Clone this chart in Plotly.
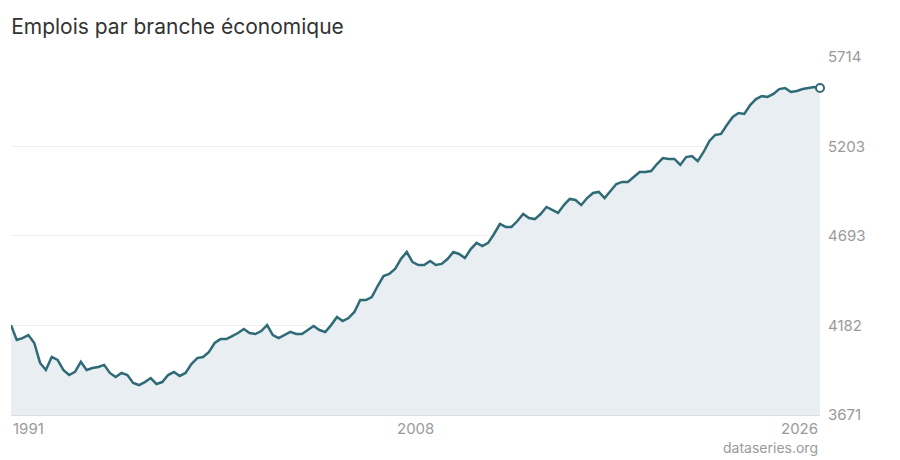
import pandas as pd
import plotly.graph_objects as go

# quarterly values, 1991Q1 .. 2025Q4
dates = pd.date_range('1991-01-01', periods=140, freq='QS')
jobs = [
    4184, 4099, 4110, 4127, 4082, 3968, 3928, 4002, 3985, 3928,
    3899, 3917, 3974, 3928, 3939, 3945, 3957, 3911, 3888, 3911,
    3899, 3854, 3842, 3859, 3882, 3848, 3859, 3899, 3917, 3894,
    3911, 3962, 3996, 4002, 4030, 4082, 4104, 4104, 4121, 4139,
    4162, 4139, 4133, 4150, 4184, 4127, 4110, 4127, 4145, 4133,
    4133, 4156, 4179, 4156, 4145, 4184, 4230, 4207, 4224, 4259,
    4327, 4327, 4344, 4407, 4464, 4476, 4504, 4561, 4601, 4544,
    4527, 4527, 4550, 4527, 4533, 4561, 4601, 4590, 4567, 4618,
    4653, 4635, 4653, 4704, 4761, 4744, 4744, 4778, 4818, 4795,
    4789, 4818, 4858, 4841, 4824, 4869, 4904, 4898, 4869, 4909,
    4938, 4944, 4909, 4949, 4989, 5001, 5001, 5029, 5058, 5058,
    5063, 5103, 5137, 5132, 5132, 5098, 5143, 5149, 5120, 5172,
    5235, 5269, 5275, 5326, 5372, 5394, 5389, 5440, 5474, 5491,
    5486, 5503, 5531, 5537, 5514, 5520, 5531, 5537, 5543, 5537,
]
y_ticks = [3671, 4182, 4693, 5203, 5714]
x_labels = ['1991', '2008', '2026']

LINE = '#2f6b76'
GREY = '#9a9a9a'

fig = go.Figure()
fig.add_trace(go.Scatter(
    x=dates, y=jobs, mode='lines',
    line=dict(color=LINE, width=2.5),
    fill='tozeroy', fillcolor='#e8eef1',
    hoverinfo='skip'))
fig.add_trace(go.Scatter(
    x=[dates[-1]], y=[jobs[-1]], mode='markers',
    marker=dict(size=8, color='white', line=dict(color=LINE, width=2)),
    cliponaxis=False, hoverinfo='skip'))

mid = dates[0] + (dates[-1] - dates[0]) / 2
for x, txt, anchor in zip([dates[0], mid, dates[-1]], x_labels, ['left', 'center', 'right']):
    fig.add_annotation(x=x, y=0, yref='paper', yshift=-2, text=txt, showarrow=False,
                       xanchor=anchor, yanchor='top',
                       font=dict(size=15, color=GREY, family='Inter'))

fig.add_annotation(x=1, y=-0.092, xref='paper', yref='paper', yanchor='middle', xanchor='right',
                   text='dataseries.org', showarrow=False,
                   font=dict(size=14, color=GREY, family='Inter'))

# page is offset by the browser's 8px body margin, so margins are shifted
fig.update_layout(
    width=900, height=460,
    margin=dict(l=3, r=88, t=49, b=53),
    paper_bgcolor='white', plot_bgcolor='white',
    showlegend=False,
    font=dict(family='Inter'),
    title=dict(text='Emplois par branche économique', x=0.0035, xanchor='left',
               y=0.959, yanchor='middle', font=dict(size=21, color='#333333')),
    xaxis=dict(range=[dates[0], dates[-1]], showgrid=False, showticklabels=False,
               zeroline=False, showline=True, linecolor='#dddddd', linewidth=1),
    yaxis=dict(range=[y_ticks[0], y_ticks[-1]], side='right', tickvals=y_ticks,
               showgrid=True, gridcolor='#f0f0f0', zeroline=False, ticks='',
               tickfont=dict(size=15, color=GREY), ticklabelstandoff=7),
)

fig.write_html('out.html')
